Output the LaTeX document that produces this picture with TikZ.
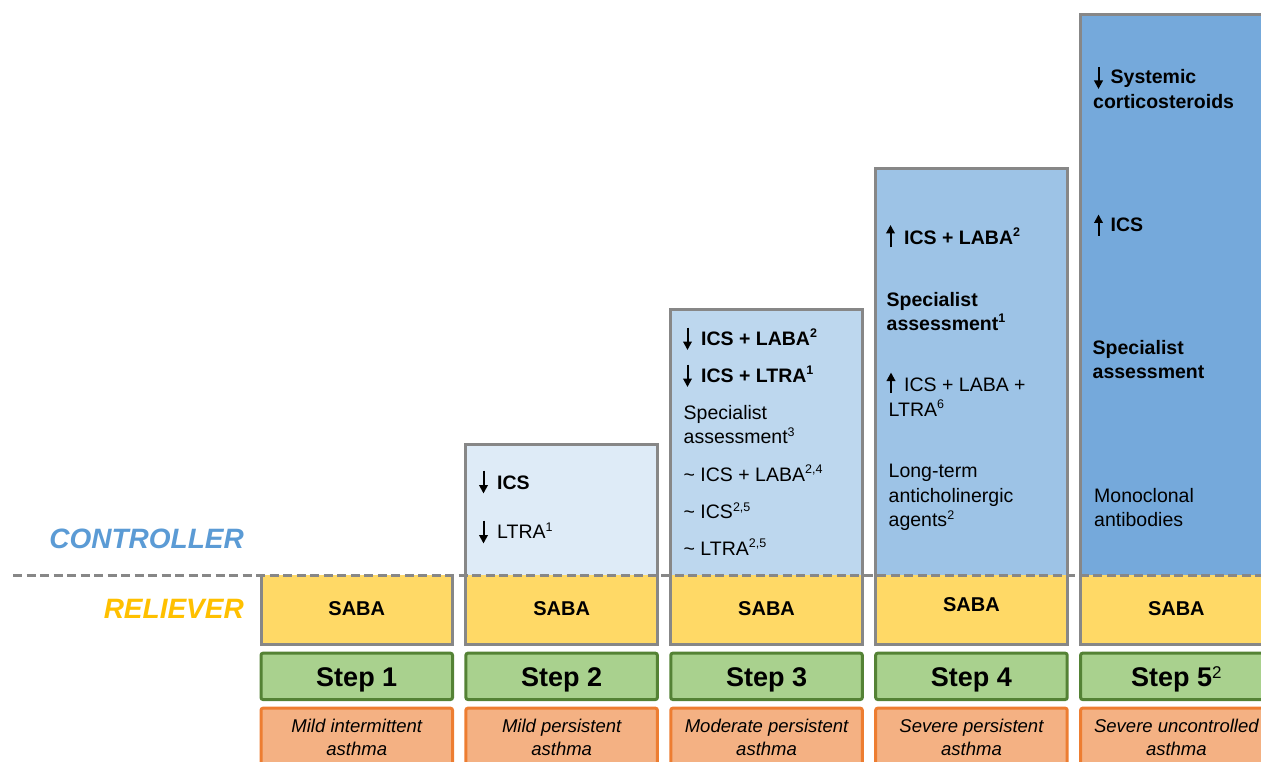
\documentclass[tikz,border=0pt]{standalone}
\usepackage{fontspec}
\setmainfont{Liberation Sans}
\usetikzlibrary{arrows.meta}
\definecolor{framegray}{HTML}{878787}
\definecolor{ctwo}{HTML}{DEEBF7}
\definecolor{cthree}{HTML}{BDD7EE}
\definecolor{cfour}{HTML}{9DC3E6}
\definecolor{cfive}{HTML}{75A9DB}
\definecolor{sabafill}{HTML}{FFD966}
\definecolor{stepfill}{HTML}{A9D18E}
\definecolor{stepline}{HTML}{548235}
\definecolor{sevfill}{HTML}{F4B183}
\definecolor{sevline}{HTML}{ED7D31}
\definecolor{ctlblue}{HTML}{5B9BD5}
\definecolor{relyellow}{HTML}{FFC000}
\newcommand\gap{\hspace*{17.5pt}}
\newcommand\sups[1]{\raisebox{0.36em}{\fontsize{12.5}{12.5}\selectfont #1}}
\begin{document}
\begin{tikzpicture}[x=1pt,y=-1pt,
  frame/.style={draw=framegray,line width=3pt},
  stepbox/.style={draw=stepline,fill=stepfill,line width=3pt,rounded corners=2pt},
  sevbox/.style={draw=sevline,fill=sevfill,line width=3pt,rounded corners=2pt},
  ctl/.style={anchor=base west,inner sep=0pt,font=\fontsize{19.5}{24}\selectfont},
  ctlb/.style={anchor=base west,inner sep=0pt,font=\fontsize{19.5}{24}\selectfont\bfseries},
  sabatext/.style={anchor=base,inner sep=0pt,font=\fontsize{20}{24}\selectfont\bfseries},
  steptext/.style={anchor=base,inner sep=0pt,font=\fontsize{27}{30}\selectfont\bfseries},
  sevtext/.style={anchor=base,inner sep=0pt,font=\fontsize{18.5}{22}\selectfont\itshape},
  sidetext/.style={anchor=base east,inner sep=0pt,font=\fontsize{28}{30}\selectfont\bfseries\itshape},
  updown/.style={line width=2pt,-{Triangle[width=8.5pt,length=8.5pt]}}]
\useasboundingbox (0,0) rectangle (1261,762);

% fills
\fill[sabafill] (259.5,575) rectangle (454,646);
\fill[ctwo] (464.4,443.3) rectangle (658.9,575);
\fill[sabafill] (464.4,575) rectangle (658.9,646);
\fill[cthree] (669.3,308.3) rectangle (863.8,575);
\fill[sabafill] (669.3,575) rectangle (863.8,646);
\fill[cfour] (874.2,167.3) rectangle (1068.7,575);
\fill[sabafill] (874.2,575) rectangle (1068.7,646);
\fill[cfive] (1079.1,13.3) rectangle (1273.6,575);
\fill[sabafill] (1079.1,575) rectangle (1273.6,646);

% frames
\draw[frame] (261,575) -- (261,644.5) -- (452.5,644.5) -- (452.5,575);
\draw[frame] (465.9,444.8) rectangle (657.4,644.5);
\draw[frame] (670.8,309.8) rectangle (862.3,644.5);
\draw[frame] (875.7,168.8) rectangle (1067.2,644.5);
\draw[frame] (1080.6,14.8) rectangle (1272.1,644.5);

% dashed divider
\draw[framegray,line width=3pt,dash pattern=on 9pt off 4.5pt] (13,575) -- (1261,575);

% side labels
\node[sidetext,text=ctlblue] (controller) at (244,548.3) {CONTROLLER};
\node[sidetext,text=relyellow] (reliever) at (244,618.3) {RELIEVER};

% SABA
\node[sabatext] (saba1) at (356.75,615) {SABA};
\node[sabatext] (saba2) at (561.65,615) {SABA};
\node[sabatext] (saba3) at (766.55,615) {SABA};
\node[sabatext] (saba4) at (971.45,611) {SABA};
\node[sabatext] (saba5) at (1176.35,615) {SABA};

% step boxes
\draw[stepbox] (261,653.2) rectangle (452.5,699.5);
\draw[stepbox] (465.9,653.2) rectangle (657.4,699.5);
\draw[stepbox] (670.8,653.2) rectangle (862.3,699.5);
\draw[stepbox] (875.7,653.2) rectangle (1067.2,699.5);
\draw[stepbox] (1080.6,653.2) rectangle (1272.1,699.5);
\node[steptext] (step1) at (356.75,686.7) {Step 1};
\node[steptext] (step2) at (561.65,686.7) {Step 2};
\node[steptext] (step3) at (766.55,686.7) {Step 3};
\node[steptext] (step4) at (971.45,686.7) {Step 4};
\node[steptext] (step5) at (1176.35,686.7) {Step 5\raisebox{0.3em}{\mdseries\fontsize{17}{17}\selectfont 2}};

% severity boxes
\draw[sevbox] (261,708.2) rectangle (452.5,780);
\draw[sevbox] (465.9,708.2) rectangle (657.4,780);
\draw[sevbox] (670.8,708.2) rectangle (862.3,780);
\draw[sevbox] (875.7,708.2) rectangle (1067.2,780);
\draw[sevbox] (1080.6,708.2) rectangle (1272.1,780);
\node[sevtext] (sev1a) at (356.75,732.7) {Mild intermittent};
\node[sevtext] (sev1b) at (356.75,755) {asthma};
\node[sevtext] (sev2a) at (561.65,732.7) {Mild persistent};
\node[sevtext] (sev2b) at (561.65,755) {asthma};
\node[sevtext] (sev3a) at (766.55,732.7) {Moderate persistent};
\node[sevtext] (sev3b) at (766.55,755) {asthma};
\node[sevtext] (sev4a) at (971.45,732.7) {Severe persistent};
\node[sevtext] (sev4b) at (971.45,755) {asthma};
\node[sevtext] (sev5a) at (1176.35,732.7) {Severe uncontrolled};
\node[sevtext] (sev5b) at (1176.35,755) {asthma};

% step 2 controller
\node[ctlb] (s2a) at (479.5,489.3) {\gap ICS};
\node[ctl] (s2b) at (479.5,538.7) {\gap LTRA\sups{1}};
\draw[updown] (483.5,470.5) -- (483.5,493.5);
\draw[updown] (483.5,520.5) -- (483.5,543.5);

% step 3 controller
\node[ctlb] (s3a) at (683.5,345) {\gap ICS + LABA\sups{2}};
\node[ctlb] (s3b) at (683.5,382) {\gap ICS + LTRA\sups{1}};
\node[ctl] (s3c) at (683.5,419.3) {Specialist};
\node[ctl] (s3d) at (683.5,443.3) {assessment\sups{3}};
\node[ctl] (s3e) at (683.5,481) {\textasciitilde{} ICS + LABA\sups{2,4}};
\node[ctl] (s3f) at (683.5,518.3) {\textasciitilde{} ICS\sups{2,5}};
\node[ctl] (s3g) at (683.5,555) {\textasciitilde{} LTRA\sups{2,5}};
\draw[updown] (687.5,327.5) -- (687.5,350);
\draw[updown] (687.5,364.5) -- (687.5,387);

% step 4 controller
\node[ctlb] (s4a) at (886.5,244) {\gap ICS + LABA\sups{2}};
\node[ctlb] (s4b) at (886.5,306) {Specialist};
\node[ctlb] (s4c) at (886.5,330) {assessment\sups{1}};
\node[ctl] (s4d) at (886.5,391.7) {\gap ICS + LABA +};
\node[ctl] (s4e) at (888.5,416) {LTRA\sups{6}};
\node[ctl] (s4f) at (888.5,477.3) {Long-term};
\node[ctl] (s4g) at (888.5,502.7) {anticholinergic};
\node[ctl] (s4h) at (888.5,526.7) {agents\sups{2}};
\draw[updown] (890.5,247.5) -- (890.5,225);
\draw[updown] (891,393) -- (891,372.5);

% step 5 controller
\node[ctlb] (s5a) at (1093,83.3) {\gap Systemic};
\node[ctlb] (s5b) at (1093,108.3) {corticosteroids};
\node[ctlb] (s5c) at (1093,231.7) {\gap ICS};
\node[ctlb] (s5d) at (1092.5,354.3) {Specialist};
\node[ctlb] (s5e) at (1092.5,378.3) {assessment};
\node[ctl] (s5f) at (1094,502.3) {Monoclonal};
\node[ctl] (s5g) at (1094,526.7) {antibodies};
\draw[updown] (1098.5,67.5) -- (1098.5,89);
\draw[updown] (1098.5,236) -- (1098.5,214.5);
\end{tikzpicture}
\end{document}
